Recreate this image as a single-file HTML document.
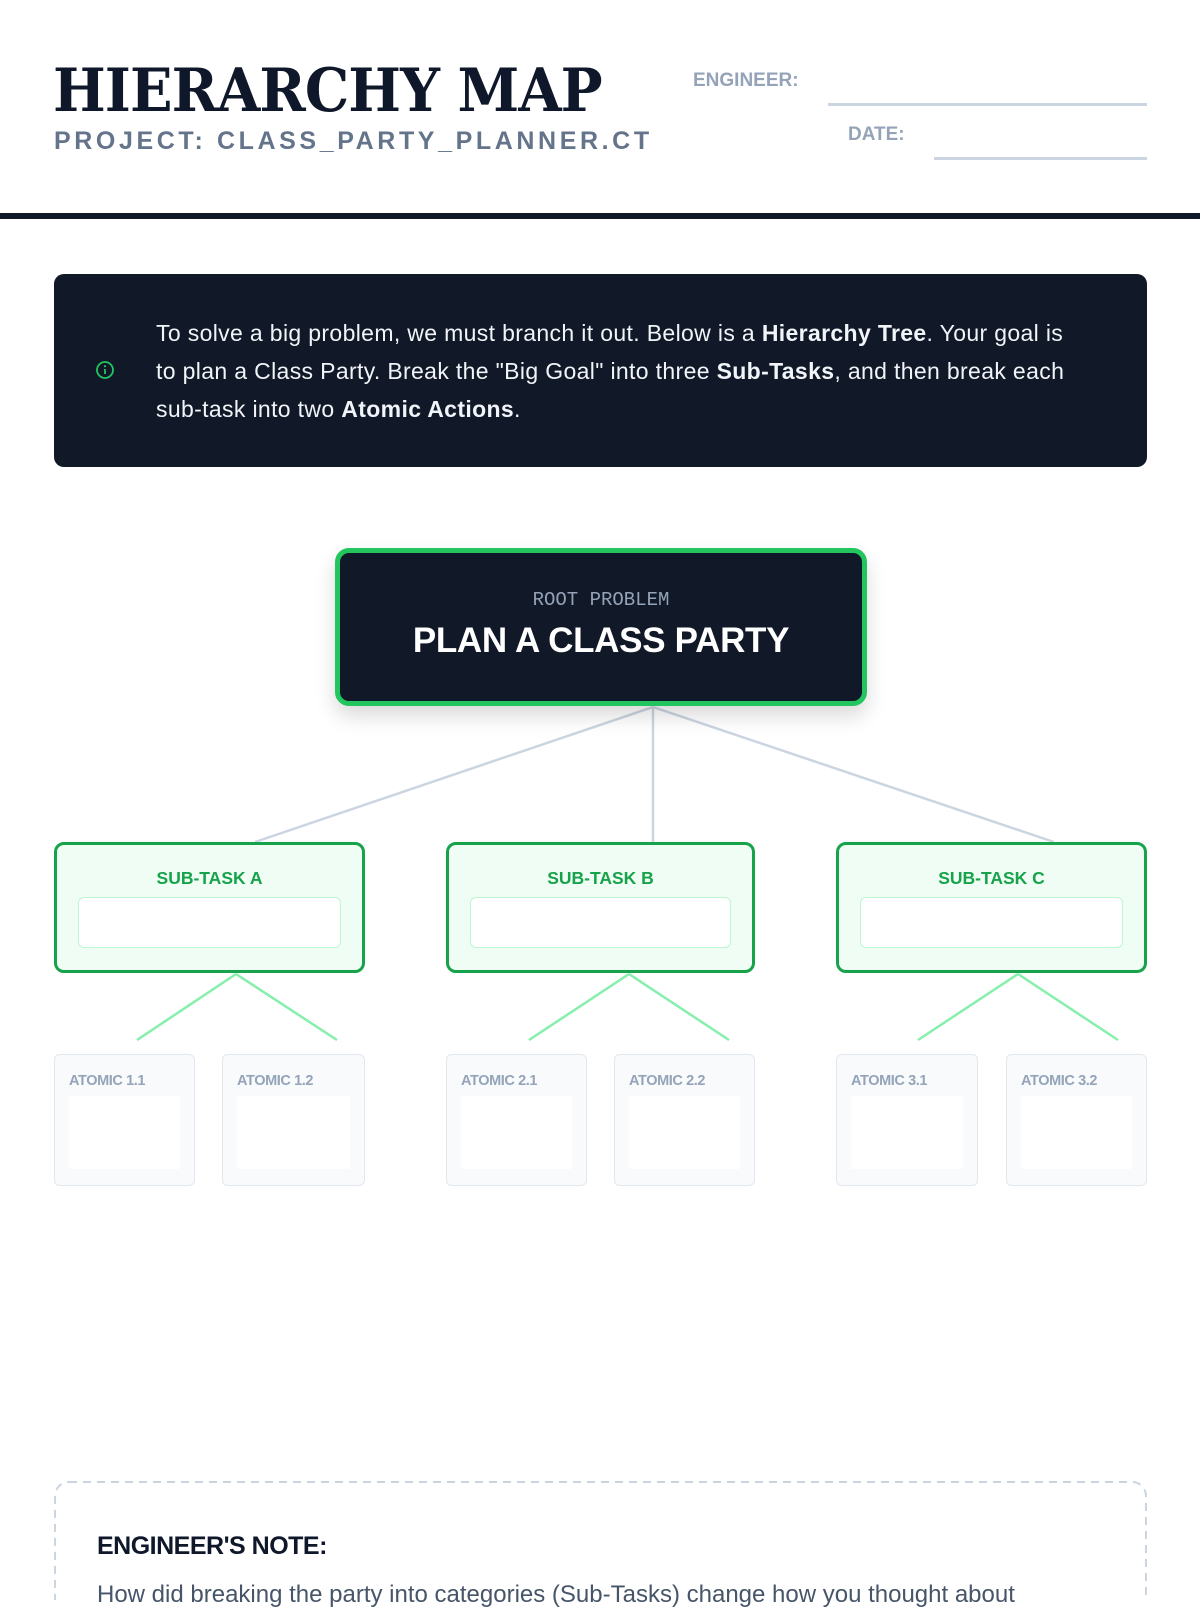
<!DOCTYPE html>
<html><head><meta charset="utf-8"><style>
*{margin:0;padding:0;box-sizing:border-box}
body{width:1200px;height:1600px;background:#fff;position:relative;overflow:hidden;font-family:"Liberation Sans",sans-serif;color:#0f172a}
.a{position:absolute}
.title{left:53px;top:56px;font-family:"DejaVu Serif",serif;font-weight:bold;font-size:60px;letter-spacing:-1px;line-height:70px;color:#0f172a;transform:scaleX(0.93);transform-origin:left}
.sub{left:54px;top:127px;font-size:25px;font-weight:bold;letter-spacing:3.6px;color:#64748b}
.lbl{font-size:19px;font-weight:bold;color:#94a3b8}
.ln{height:3px;background:#cbd5e1}
.rule{left:0;top:213px;width:1200px;height:6px;background:#0f172a}
.info{left:54px;top:274px;width:1093px;height:193px;background:#111827;border-radius:10px}
.info p{position:absolute;left:102px;top:40px;width:922px;color:#f1f5f9;font-size:23px;letter-spacing:0.35px;line-height:38px}
.root{left:335px;top:548px;width:532px;height:158px;background:#111827;border:5px solid #22c55e;border-radius:14px;box-shadow:0 10px 20px rgba(0,0,0,.15);text-align:center}
.sbox{top:842px;height:131px;border:3px solid #16a34a;background:#f0fdf4;border-radius:10px;text-align:center}
.sbox b{display:block;margin-top:23px;font-size:17.5px;color:#16a34a}
.sbox i{position:absolute;left:21px;right:21px;top:52px;height:51px;background:#fff;border:1.5px solid #bbf7d0;border-radius:6px}
.at{top:1054px;height:132px;border:1.5px solid #e2e8f0;background:#f8fafc;border-radius:6px}
.at b{position:absolute;left:14px;top:18px;font-size:14.5px;color:#94a3b8;letter-spacing:-0.4px}
.at i{position:absolute;left:14px;right:14px;top:41px;height:73px;background:#fff}
</style></head><body>
<div class="a title">HIERARCHY MAP</div>
<div class="a sub">PROJECT: CLASS_PARTY_PLANNER.CT</div>
<div class="a lbl" style="left:693px;top:70px">ENGINEER:</div>
<div class="a ln" style="left:828px;top:103px;width:319px"></div>
<div class="a lbl" style="left:848px;top:124px">DATE:</div>
<div class="a ln" style="left:934px;top:157px;width:213px"></div>
<div class="a rule"></div>
<div class="a info">
<svg class="a" style="left:41px;top:86px" width="20" height="20" viewBox="0 0 20 20"><circle cx="10" cy="10" r="8" fill="none" stroke="#22c55e" stroke-width="1.8"/><line x1="10" y1="9" x2="10" y2="14" stroke="#22c55e" stroke-width="1.8"/><circle cx="10" cy="6.2" r="1.1" fill="#22c55e"/></svg>
<p>To solve a big problem, we must branch it out. Below is a <b>Hierarchy Tree</b>. Your goal is<br>to plan a Class Party. Break the "Big Goal" into three <b>Sub-Tasks</b>, and then break each<br>sub&#8209;task into two <b>Atomic Actions</b>.</p>
</div>
<svg class="a" style="left:0;top:0" width="1200" height="1600">
<g stroke="#cbd5e1" stroke-width="2.5"><line x1="653" y1="707" x2="255" y2="842"/><line x1="653" y1="707" x2="653" y2="842"/><line x1="653" y1="707" x2="1054" y2="842"/></g>
<g stroke="#86efac" stroke-width="2.5"><line x1="236" y1="974" x2="137" y2="1040"/><line x1="236" y1="974" x2="337" y2="1040"/><line x1="629" y1="974" x2="529" y2="1040"/><line x1="629" y1="974" x2="729" y2="1040"/><line x1="1018" y1="974" x2="918" y2="1040"/><line x1="1018" y1="974" x2="1118" y2="1040"/></g>
<rect x="55" y="1482" width="1091" height="140" rx="14" fill="none" stroke="#cbd5e1" stroke-width="2" stroke-dasharray="8 6"/>
</svg>
<div class="a root">
<div style="margin-top:36px;font-family:'Liberation Mono',monospace;font-size:19px;color:#94a3b8">ROOT PROBLEM</div>
<div style="margin-top:10px;font-size:35px;font-weight:900;color:#fff;letter-spacing:-0.3px">PLAN A CLASS PARTY</div>
</div>
<div class="a sbox" style="left:54px;width:311px"><b>SUB-TASK A</b><i></i></div>
<div class="a sbox" style="left:446px;width:309px"><b>SUB-TASK B</b><i></i></div>
<div class="a sbox" style="left:836px;width:311px"><b>SUB-TASK C</b><i></i></div>
<div class="a at" style="left:54px;width:141px"><b>ATOMIC 1.1</b><i></i></div>
<div class="a at" style="left:222px;width:143px"><b>ATOMIC 1.2</b><i></i></div>
<div class="a at" style="left:446px;width:141px"><b>ATOMIC 2.1</b><i></i></div>
<div class="a at" style="left:614px;width:141px"><b>ATOMIC 2.2</b><i></i></div>
<div class="a at" style="left:836px;width:142px"><b>ATOMIC 3.1</b><i></i></div>
<div class="a at" style="left:1006px;width:141px"><b>ATOMIC 3.2</b><i></i></div>
<div class="a" style="left:97px;top:1532px;font-size:25px;font-weight:900;letter-spacing:-0.5px;color:#0f172a">ENGINEER'S NOTE:</div>
<div class="a" style="left:97px;top:1581px;font-size:24px;color:#475569;white-space:nowrap">How did breaking the party into categories (Sub-Tasks) change how you thought about</div>
</body></html>
